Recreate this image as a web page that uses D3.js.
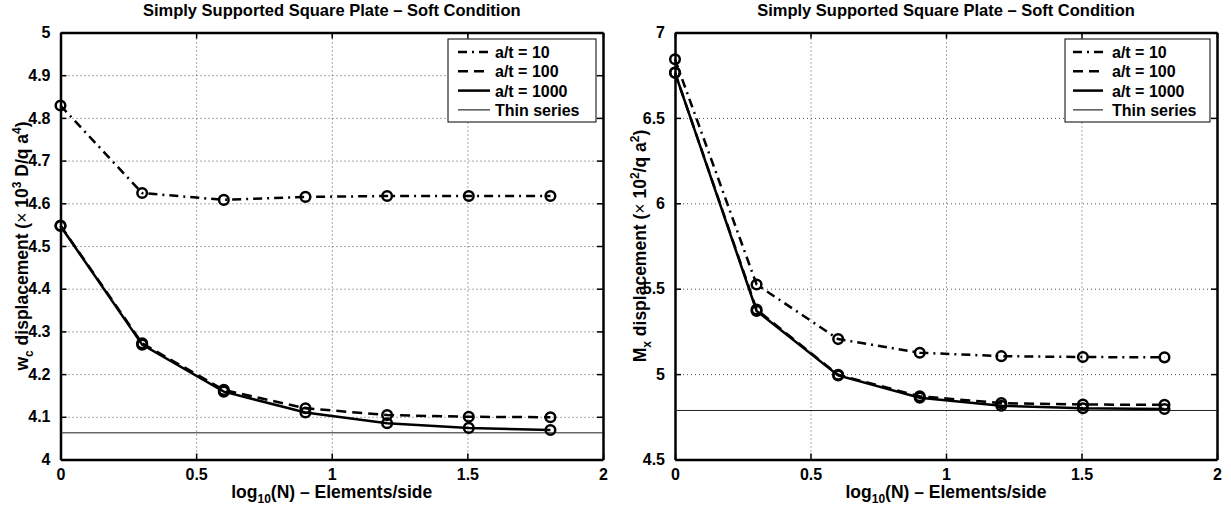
<!DOCTYPE html>
<html><head><meta charset="utf-8">
<script src="https://cdn.jsdelivr.net/npm/d3@7"></script>
<style>
body{margin:0;background:#fff;}
svg text{font-family:"Liberation Sans",Arial,Helvetica,sans-serif;font-weight:bold;fill:#000;}
</style></head>
<body>
<svg id="chart" width="1231" height="508"></svg>
<script>
// ---- data ----
const xVals = [0, 0.30103, 0.60206, 0.90309, 1.20412, 1.50515, 1.80618];
const xTicks = [0, 0.5, 1, 1.5, 2];
const xTickLabels = ["0", "0.5", "1", "1.5", "2"];

const wcTicks = [4, 4.1, 4.2, 4.3, 4.4, 4.5, 4.6, 4.7, 4.8, 4.9, 5];
const wcTickLabels = ["4", "4.1", "4.2", "4.3", "4.4", "4.5", "4.6", "4.7", "4.8", "4.9", "5"];
const wc10   = [4.829, 4.624, 4.608, 4.615, 4.617, 4.617, 4.617];
const wc100  = [4.548, 4.272, 4.163, 4.120, 4.104, 4.100, 4.099];
const wc1000 = [4.547, 4.269, 4.159, 4.110, 4.085, 4.074, 4.069];
const wcThin = 4.0625;

const mxTicks = [4.5, 5, 5.5, 6, 6.5, 7];
const mxTickLabels = ["4.5", "5", "5.5", "6", "6.5", "7"];
const mx10   = [6.843, 5.525, 5.205, 5.125, 5.105, 5.100, 5.098];
const mx100  = [6.765, 5.378, 4.996, 4.870, 4.830, 4.822, 4.820];
const mx1000 = [6.765, 5.370, 4.992, 4.862, 4.815, 4.800, 4.796];
const mxThin = 4.787;

const legendLabels = ["a/t = 10", "a/t = 100", "a/t = 1000", "Thin series"];
const titleText = "Simply Supported Square Plate \u2013 Soft Condition";

// ---- drawing ----
const svg = d3.select("#chart");
const styles = [
  {dash: "9,5,2,5", width: 2.5},
  {dash: "10,6", width: 2.5},
  {dash: null, width: 2.5},
  {dash: null, width: 1}
];

function panel(cfg) {
  const x = d3.scaleLinear().domain([0, 2]).range([cfg.x0, cfg.x1]);
  const y = d3.scaleLinear().domain(cfg.yDomain).range([cfg.yb, cfg.yt]);
  const g = svg.append("g");

  // grid
  const gx = g.append("g").attr("transform", `translate(0,${cfg.yb})`)
    .call(d3.axisBottom(x).tickValues(xTicks).tickSize(-(cfg.yb - cfg.yt)).tickFormat(""));
  gx.select(".domain").remove();
  gx.selectAll("line").attr("stroke", "#555").attr("stroke-width", 1).attr("stroke-dasharray", "1,3");
  const gy = g.append("g").attr("transform", `translate(${cfg.x0},0)`)
    .call(d3.axisLeft(y).tickValues(cfg.yTicks).tickSize(-(cfg.x1 - cfg.x0)).tickFormat(""));
  gy.select(".domain").remove();
  gy.selectAll("line").attr("stroke", "#555").attr("stroke-width", 1).attr("stroke-dasharray", "1,3");
  gx.selectAll(".tick").filter(d => d === 0 || d === 2).remove();
  gy.selectAll(".tick").filter(d => d === cfg.yDomain[0] || d === cfg.yDomain[1]).remove();

  // axes (inward ticks)
  const tl = 6;
  const axB = g.append("g").attr("transform", `translate(0,${cfg.yb})`)
    .call(d3.axisBottom(x).tickValues(xTicks).tickFormat((d, i) => xTickLabels[i]).tickSizeInner(-tl).tickSizeOuter(0).tickPadding(9));
  const axT = g.append("g").attr("transform", `translate(0,${cfg.yt})`)
    .call(d3.axisTop(x).tickValues(xTicks).tickFormat("").tickSizeInner(-tl).tickSizeOuter(0));
  const axL = g.append("g").attr("transform", `translate(${cfg.x0},0)`)
    .call(d3.axisLeft(y).tickValues(cfg.yTicks).tickFormat((d, i) => cfg.yTickLabels[i]).tickSizeInner(-tl).tickSizeOuter(0).tickPadding(10));
  const axR = g.append("g").attr("transform", `translate(${cfg.x1},0)`)
    .call(d3.axisRight(y).tickValues(cfg.yTicks).tickFormat("").tickSizeInner(-tl).tickSizeOuter(0));
  [axB, axT, axL, axR].forEach(a => {
    a.select(".domain").attr("stroke", "#000").attr("stroke-width", 2.5);
    a.selectAll(".tick line").attr("stroke", "#000").attr("stroke-width", 1.5);
    a.selectAll("text").style("font-size", "16px").style("font-weight", "bold")
      .style("font-family", '"Liberation Sans",Arial,sans-serif').attr("fill", "#000");
  });
  axB.selectAll("text").attr("dy", "0.71em");

  // thin series
  g.append("line")
    .attr("x1", x(0)).attr("x2", x(2))
    .attr("y1", y(cfg.thin)).attr("y2", y(cfg.thin))
    .attr("stroke", "#222").attr("stroke-width", 1);

  // series
  const line = d3.line().x((d, i) => x(xVals[i])).y(d => y(d));
  cfg.series.forEach((s, k) => {
    g.append("path").datum(s).attr("d", line)
      .attr("fill", "none").attr("stroke", "#000").attr("stroke-width", styles[k].width)
      .attr("stroke-dasharray", styles[k].dash);
  });
  cfg.series.forEach(s => {
    g.selectAll(null).data(s).enter().append("circle")
      .attr("cx", (d, i) => x(xVals[i])).attr("cy", d => y(d)).attr("r", 4.8)
      .attr("fill", "none").attr("stroke", "#000").attr("stroke-width", 2.5);
  });

  // title
  g.append("text").attr("x", (cfg.x0 + cfg.x1) / 2).attr("y", 16)
    .attr("text-anchor", "middle").style("font-size", "16.5px").text(titleText);

  // x label
  const xl = g.append("text").attr("x", (cfg.x0 + cfg.x1) / 2).attr("y", 498)
    .attr("text-anchor", "middle").style("font-size", "17.5px");
  xl.append("tspan").text("log");
  xl.append("tspan").attr("dy", 5).style("font-size", "12px").text("10");
  xl.append("tspan").attr("dy", -5).text("(N) \u2013 Elements/side");

  // y label
  const yl = g.append("text")
    .attr("transform", `translate(${cfg.ylx},${(cfg.yt + cfg.yb) / 2}) rotate(-90)`)
    .attr("text-anchor", "middle").style("font-size", "17.5px");
  cfg.ylabel(yl);

  // legend
  const L = cfg.legend;
  g.append("rect").attr("x", L.x).attr("y", L.y).attr("width", L.w).attr("height", L.h)
    .attr("fill", "#fff").attr("stroke", "#000").attr("stroke-width", 1);
  legendLabels.forEach((lab, k) => {
    const cy = L.y + 13 + k * 19.3;
    g.append("line").attr("x1", L.lx0).attr("x2", L.lx1).attr("y1", cy).attr("y2", cy)
      .attr("stroke", "#000").attr("stroke-width", styles[k].width)
      .attr("stroke-dasharray", styles[k].dash);
    g.append("text").attr("x", L.tx).attr("y", cy + 6).style("font-size", "16px").text(lab);
  });
}

panel({
  x0: 60.5, x1: 603, yt: 32.5, yb: 459.5,
  yDomain: [4, 5], yTicks: wcTicks, yTickLabels: wcTickLabels,
  series: [wc10, wc100, wc1000], thin: wcThin,
  ylx: 28,
  ylabel: t => {
    t.append("tspan").text("w");
    t.append("tspan").attr("dy", 5).style("font-size", "12px").text("c");
    t.append("tspan").attr("dy", -5).text(" displacement (");
    t.append("tspan").style("font-weight", "normal").text("\u00d7");
    t.append("tspan").text(" 10");
    t.append("tspan").attr("dy", -7).style("font-size", "12px").text("3");
    t.append("tspan").attr("dy", 7).text(" D/q a");
    t.append("tspan").attr("dy", -7).style("font-size", "12px").text("4");
    t.append("tspan").attr("dy", 7).text(")");
  },
  legend: {x: 448, y: 39, w: 148, h: 83, lx0: 458, lx1: 490, tx: 495}
});

panel({
  x0: 675, x1: 1217, yt: 32.5, yb: 459.5,
  yDomain: [4.5, 7], yTicks: mxTicks, yTickLabels: mxTickLabels,
  series: [mx10, mx100, mx1000], thin: mxThin,
  ylx: 646,
  ylabel: t => {
    t.append("tspan").text("M");
    t.append("tspan").attr("dy", 5).style("font-size", "12px").text("x");
    t.append("tspan").attr("dy", -5).text(" displacement (");
    t.append("tspan").style("font-weight", "normal").text("\u00d7");
    t.append("tspan").text(" 10");
    t.append("tspan").attr("dy", -7).style("font-size", "12px").text("2");
    t.append("tspan").attr("dy", 7).text("/q a");
    t.append("tspan").attr("dy", -7).style("font-size", "12px").text("2");
    t.append("tspan").attr("dy", 7).text(")");
  },
  legend: {x: 1065, y: 39, w: 145, h: 83, lx0: 1073, lx1: 1103, tx: 1112}
});
</script>
</body></html>
